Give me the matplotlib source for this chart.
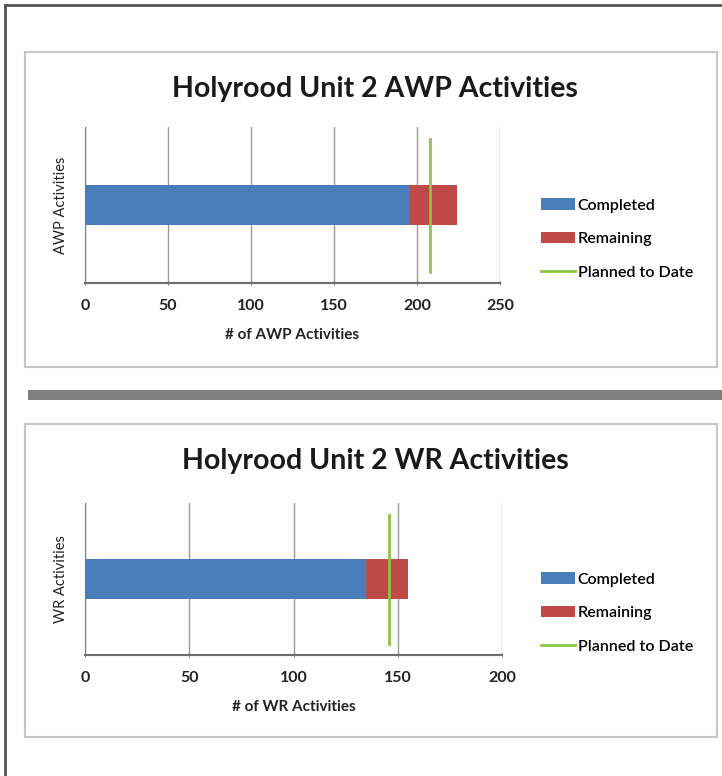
import matplotlib.pyplot as plt
from matplotlib.patches import Rectangle
from matplotlib.lines import Line2D

# ---- data ----
titles = ["Holyrood Unit 2 AWP Activities", "Holyrood Unit 2 WR Activities"]
xlabels = ["# of AWP Activities", "# of WR Activities"]
ylabels = ["AWP Activities", "WR Activities"]
series = ["Completed", "Remaining", "Planned to Date"]
completed = [195, 135]
remaining = [29, 20]
planned = [208, 146]
xmax = [250, 200]
xstep = [50, 50]

W, H = 722, 776
BLUE = "#4a7ebb"
RED = "#be4b48"
GREEN = "#8cc63f"

plt.rcParams['font.family'] = ['Lato', 'DejaVu Sans']

fig = plt.figure(figsize=(W / 100, H / 100), dpi=100)


def fx(px):
    return px / W


def fy(py):
    return 1 - py / H


# page border (left and top)
fig.add_artist(Line2D([fx(5), fx(5)], [fy(5), fy(776)], color="#555555", lw=2, zorder=-2))
fig.add_artist(Line2D([fx(5), fx(722)], [fy(5), fy(5)], color="#555555", lw=2, zorder=-2))

# separator bar
fig.add_artist(Rectangle((fx(28), fy(400)), fx(722) - fx(28), fy(390) - fy(400),
                         facecolor="#7f7f7f", edgecolor="none", zorder=-2))

# panel layout in pixels: (box top, box bottom, axes top, axes bottom, axes right)
panels = [(52, 367, 127, 283, 500), (424, 737, 503, 655, 502)]

for i, (btop, bbot, atop, abot, aright) in enumerate(panels):
    fig.add_artist(Rectangle((fx(25), fy(bbot)), fx(717) - fx(25), fy(btop) - fy(bbot),
                             facecolor="white", edgecolor="#c6c6c6", lw=1.5, zorder=-1))
    fig.text(fx(375), fy(btop + 37), titles[i], ha="center", va="center",
             fontsize=20.5, fontweight="bold", color="#1a1a1a")

    ax = fig.add_axes([fx(85), fy(abot), fx(aright) - fx(85), fy(atop) - fy(abot)])
    ax.patch.set_alpha(0)
    b1 = ax.barh(0, completed[i], height=0.26, color=BLUE, zorder=3)
    b2 = ax.barh(0, remaining[i], left=completed[i], height=0.26, color=RED, zorder=3)
    ln, = ax.plot([planned[i], planned[i]], [-0.43, 0.42], color=GREEN, lw=2, zorder=4)

    ax.set_xlim(0, xmax[i])
    ax.set_ylim(-0.5, 0.5)
    ax.set_xticks(range(0, xmax[i] + 1, xstep[i]))
    ax.set_yticks([])
    ax.grid(axis="x", color="#9a9a9a", lw=1, zorder=0)
    for s in ["top", "right"]:
        ax.spines[s].set_visible(False)
    ax.spines["left"].set_color("#808080")
    ax.spines["bottom"].set_color("#6e6e6e")
    ax.spines["bottom"].set_linewidth(1.5)
    ax.tick_params(axis="x", length=3, direction="inout", color="#808080", pad=10,
                   labelsize=11.5, labelcolor="#222222")
    for lab in ax.get_xticklabels():
        lab.set_fontweight("bold")
    ax.set_xlabel(xlabels[i], fontsize=11, fontweight="bold", labelpad=11,
                  color="#222222")
    ax.set_ylabel(ylabels[i], fontsize=10.5, labelpad=12, color="#222222")

    fig.legend([b1, b2, ln], series, loc="center left",
               bbox_to_anchor=(fx(541), fy((atop + abot) / 2 + 34)),
               frameon=False, handlelength=2.1, handleheight=0.75,
               labelspacing=1.2, handletextpad=0.2, borderpad=0, borderaxespad=0,
               prop={"weight": "semibold", "size": 11.5})

fig.savefig("out.png", dpi=100)
